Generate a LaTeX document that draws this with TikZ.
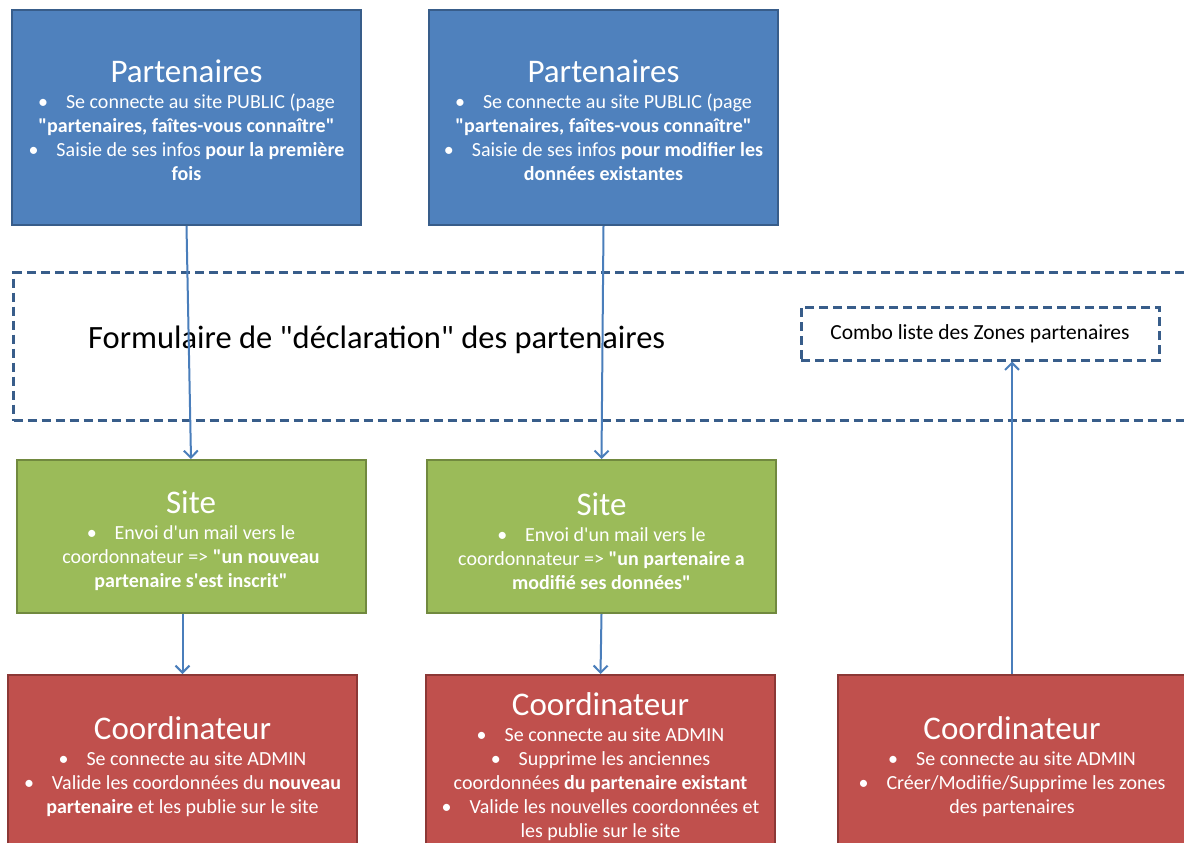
\documentclass[tikz,border=0pt]{standalone}
\usepackage{fontspec}
\setmainfont{Carlito}[Ligatures=TeXOff]
\usetikzlibrary{arrows.meta}

\definecolor{bleu}{HTML}{4F81BD}
\definecolor{bleufonce}{HTML}{385D8A}
\definecolor{vert}{HTML}{9BBB59}
\definecolor{vertfonce}{HTML}{71893F}
\definecolor{rouge}{HTML}{C0504D}
\definecolor{rougefonce}{HTML}{8C3836}
\definecolor{fleche}{HTML}{4A7EBB}

\newcommand{\titre}[2][0pt]{{\fontsize{33}{33}\selectfont\rule{0pt}{\dimexpr 24pt+#1\relax}#2}\\[2pt]}
\newcommand{\puce}{•\hspace{0.9em}}

\tikzset{
  boite/.style={rectangle, line width=2pt, minimum width=349pt, text=white, align=center,
    inner sep=0pt, font=\fontsize{20}{24}\selectfont},
  partenaire/.style={boite, fill=bleu, draw=bleufonce, minimum height=215pt},
  site/.style={boite, fill=vert, draw=vertfonce, minimum height=153pt},
  coord/.style={boite, fill=rouge, draw=rougefonce, minimum height=184pt},
  pointille/.style={draw=bleufonce, line width=3pt, dash pattern=on 9pt off 5pt},
  liaison/.style={draw=fleche, line width=2pt, -{Straight Barb[length=7pt,width=14pt]}}
}

\begin{document}
\begin{tikzpicture}[x=1pt, y=-1pt]
  \clip (0,0) rectangle (1184,843);
  \fill[white] (0,0) rectangle (1184,843);

  \node[partenaire] (p1) at (186.5,117.5) {\titre[4pt]{Partenaires}
    \puce Se connecte au site PUBLIC (page\\
    \textbf{"partenaires, faîtes-vous connaître"}\\
    \puce Saisie de ses infos \textbf{pour la première}\\
    \textbf{fois}};
  \node[partenaire] (p2) at (603.5,117.5) {\titre[4pt]{Partenaires}
    \puce Se connecte au site PUBLIC (page\\
    \textbf{"partenaires, faîtes-vous connaître"}\\
    \puce Saisie de ses infos \textbf{pour modifier les}\\
    \textbf{données existantes}};

  % formulaire
  \node[pointille, rectangle, minimum width=1190pt, minimum height=148pt, anchor=north west] (form) at (12,271) {};
  \node[anchor=west, font=\fontsize{32.5}{32.5}\selectfont, inner sep=0pt] (formtxt) at (88,340) {Formulaire de "déclaration" des partenaires};
  \node[pointille, rectangle, fill=white, minimum width=358pt, minimum height=53pt, inner sep=0pt,
    font=\fontsize{21.5}{21.5}\selectfont] (combo) at (980,333.5) {Combo liste des Zones partenaires};

  \node[site] (s1) at (191,536.5) {\titre[8pt]{Site}
    \puce Envoi d'un mail vers le\\
    coordonnateur => \textbf{"un nouveau}\\
    \textbf{partenaire s'est inscrit"}};
  \node[site] (s2) at (601.5,536.5) {\titre[8pt]{Site}
    \puce Envoi d'un mail vers le\\
    coordonnateur => \textbf{"un partenaire a}\\
    \textbf{modifié ses données"}};

  \node[coord] (c1) at (182.5,767) {\titre[-3pt]{Coordinateur}
    \puce Se connecte au site ADMIN\\
    \puce Valide les coordonnées du \textbf{nouveau}\\
    \textbf{partenaire} et les publie sur le site};
  \node[coord] (c2) at (600.5,767) {\titre[-3pt]{Coordinateur}
    \puce Se connecte au site ADMIN\\
    \puce Supprime les anciennes\\
    coordonnées \textbf{du partenaire existant}\\
    \puce Valide les nouvelles coordonnées et\\
    les publie sur le site};
  \node[coord] (c3) at (1012,767) {\titre[-3pt]{Coordinateur}
    \puce Se connecte au site ADMIN\\
    \puce Créer/Modifie/Supprime les zones\\
    des partenaires};

  \draw[liaison] (p1.south) -- (s1.north);
  \draw[liaison] (p2.south) -- (s2.north);
  \draw[liaison] (s1.south -| c1.north) -- (c1.north);
  \draw[liaison] (s2.south) -- (c2.north);
  \draw[liaison] (c3.north) -- (c3.north |- combo.south);
\end{tikzpicture}
\end{document}
